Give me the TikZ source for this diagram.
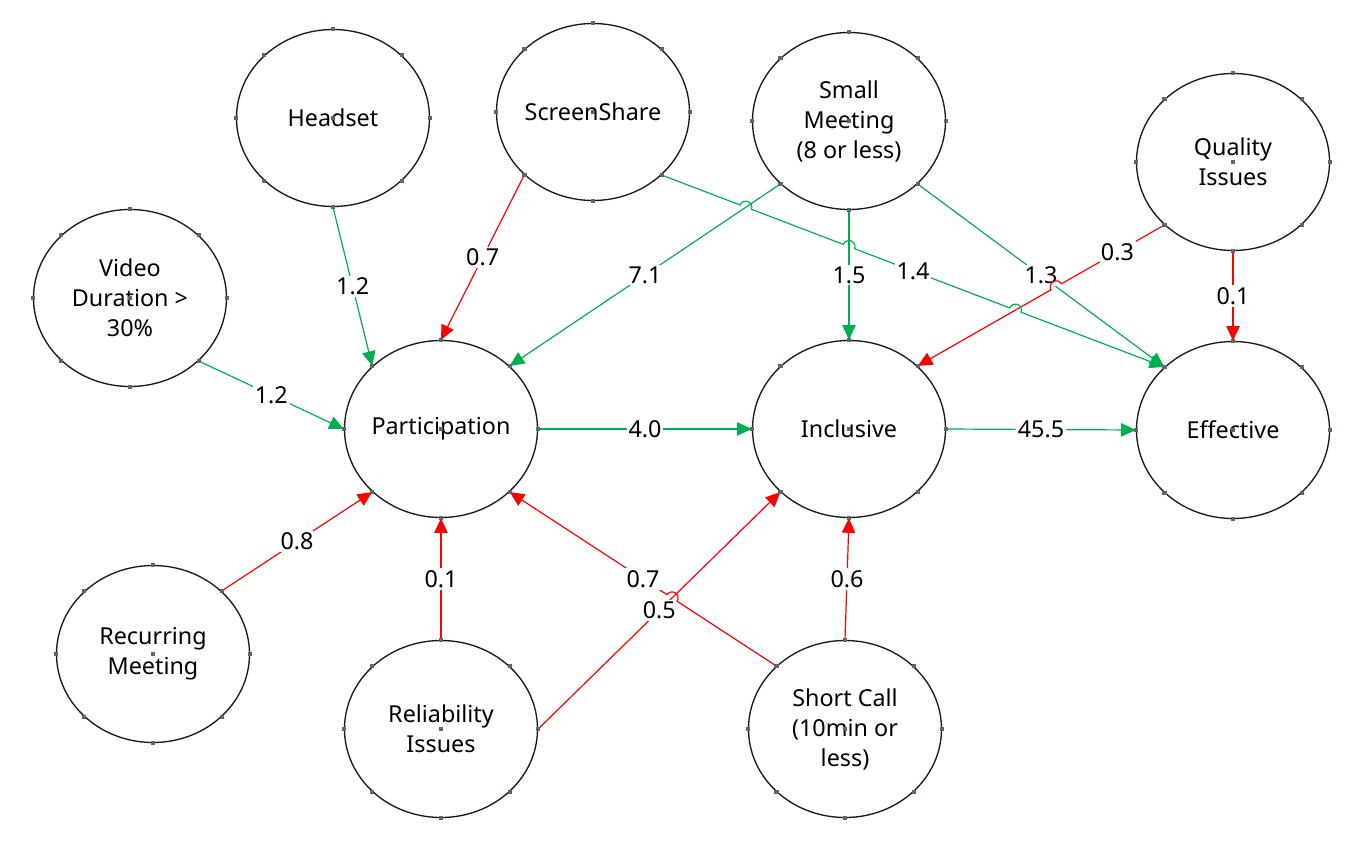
\documentclass[tikz,border=0pt]{standalone}
\usepackage{fontspec}
\setmainfont{Noto Sans}
\usetikzlibrary{arrows.meta, positioning, shapes.geometric, calc, intersections}
\definecolor{posgreen}{HTML}{00B050}
\definecolor{negred}{HTML}{FF0000}
\definecolor{cptgray}{HTML}{5F6472}
\newcommand{\hopr}{4.5pt}

\begin{document}
\begin{tikzpicture}[
  x=0.75pt, y=0.75pt,
  every node/.style={font=\fontsize{17.5}{22.5}\selectfont},
  factor/.style={draw=black!90, ellipse, line width=1pt, minimum width=144.75pt, minimum height=132.75pt, inner xsep=-6pt, inner ysep=0pt, align=center},
  lbl/.style={fill=white, text=black, inner sep=1.5pt},
  posarrow/.style={-{Triangle[length=11pt, width=10pt]}, line width=0.9pt, posgreen},
  negarrow/.style={-{Triangle[length=11pt, width=10pt]}, line width=0.9pt, negred},
]
\useasboundingbox (0,0) rectangle (1366,-849);

% Factors
\node[factor] (hs) at (333,-118) {Headset};
\node[factor] (ss) at (593,-112) {ScreenShare};
\node[factor] (sm) at (849,-121) {Small\\Meeting\\(8 or less)};
\node[factor] (qi) at (1233,-162) {Quality\\Issues};
\node[factor] (vd) at (130,-298) {Video\\Duration >\\30\%};
\node[factor] (part) at (441,-429) {Participation};
\node[factor] (inc) at (849,-429) {Inclusive};
\node[factor] (eff) at (1233,-430) {Effective};
\node[factor] (rm) at (153,-654) {Recurring\\Meeting};
\node[factor] (ri) at (441,-729) {Reliability\\Issues};
\node[factor] (sc) at (845,-729) {Short Call\\(10min or\\less)};

% Into Participation
\draw[posarrow] (hs.south) -- (part.north west) node[lbl, pos=0.5] {1.2};
\draw[negarrow] (ss.south west) -- (part.north) node[lbl, pos=0.5] {0.7};
\draw[posarrow, name path=l71] (sm.south west) -- (part.north east) node[lbl, pos=0.5] {7.1};
\draw[posarrow] (vd.south east) -- (part.west) node[lbl, pos=0.5] {1.2};
\draw[negarrow] (rm.north east) -- (part.south west) node[lbl, pos=0.5] {0.8};
\draw[negarrow] (ri.north) -- (part.south) node[lbl, pos=0.5] {0.1};

% Into Inclusive
\draw[posarrow] (part.east) -- (inc.west) node[lbl, pos=0.5] {4.0};
\draw[posarrow, name path=l15] (sm.south) -- (inc.north) node[lbl, pos=0.5] {1.5};
\draw[negarrow, name path=l05] (ri.east) -- (inc.south west) node[lbl, pos=0.5] {0.5};
\draw[negarrow] (sc.north) -- (inc.south) node[lbl, pos=0.5] {0.6};

% Into Effective
\draw[posarrow] (inc.east) -- (eff.west) node[lbl, pos=0.5] {45.5};
\draw[posarrow, name path=l13] (sm.south east) -- (eff.north west) node[lbl, pos=0.5] {1.3};
\draw[negarrow] (qi.south) -- (eff.north) node[lbl, pos=0.5] {0.1};

% Line hops
\path[name path=lss] (ss.south east) -- (eff.north west);
\path[name path=l03] (qi.south west) -- (inc.north east);
\path[name path=l07] (sc.north west) -- (part.south east);
\path[name intersections={of=lss and l71, by=h1}];
\path[name intersections={of=lss and l15, by=h2}];
\path[name intersections={of=lss and l03, by=h3}];
\path[name intersections={of=l03 and l13, by=h4}];
\path[name intersections={of=l07 and l05, by=h5}];

\draw[negarrow] let \p1=($(inc.north east)-(qi.south west)$), \n1={atan2(\y1,\x1)} in
  (qi.south west) -- ($(h4)!\hopr!(qi.south west)$)
  arc[start angle=\n1+180, delta angle=180, radius=\hopr] -- (inc.north east);
\node[lbl] at ($(qi.south west)!0.19!(inc.north east)$) {0.3};

\draw[posarrow] let \p1=($(eff.north west)-(ss.south east)$), \n1={atan2(\y1,\x1)} in
  (ss.south east)
  -- ($(h1)!\hopr!(ss.south east)$) arc[start angle=\n1+180, delta angle=-180, radius=\hopr]
  -- ($(h2)!\hopr!(ss.south east)$) arc[start angle=\n1+180, delta angle=-180, radius=\hopr]
  -- ($(h3)!\hopr!(ss.south east)$) arc[start angle=\n1+180, delta angle=-180, radius=\hopr]
  -- (eff.north west);
\node[lbl] at ($(ss.south east)!0.5!(eff.north west)$) {1.4};

\draw[negarrow] let \p1=($(part.south east)-(sc.north west)$), \n1={atan2(\y1,\x1)} in
  (sc.north west) -- ($(h5)!\hopr!(sc.north west)$)
  arc[start angle=\n1+180, delta angle=180, radius=\hopr] -- (part.south east);
\node[lbl] at ($(sc.north west)!0.5!(part.south east)$) {0.7};

% Connection points
\foreach \nd in {hs,ss,sm,qi,vd,part,inc,eff,rm,ri,sc}
  \foreach \an in {north,north east,east,south east,south,south west,west,north west,center}
    \fill[cptgray] ($(\nd.\an)+(-2.2,-2.2)$) rectangle ++(4.4,4.4);

\end{tikzpicture}
\end{document}
